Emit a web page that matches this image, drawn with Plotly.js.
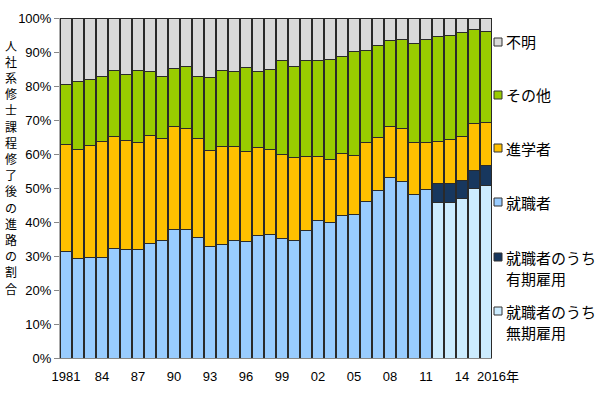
<!DOCTYPE html>
<html>
<head>
<meta charset="utf-8">
<script src="https://cdn.plot.ly/plotly-3.0.1.min.js"></script>
<style>html,body{margin:0;padding:0;background:#fff;}#chart{width:600px;height:398px;}</style>
</head>
<body>
<div id="chart"></div>
<script>
// Years 1981-2016
const years = [1981,1982,1983,1984,1985,1986,1987,1988,1989,1990,1991,1992,1993,1994,1995,1996,1997,1998,
               1999,2000,2001,2002,2003,2004,2005,2006,2007,2008,2009,2010,2011,2012,2013,2014,2015,2016];

// 就職者 (1981-2011), null afterwards
const shushoku = [31.2,29.2,29.5,29.7,32.2,31.9,31.8,33.7,34.7,37.7,37.8,35.3,32.7,33.5,34.6,34.4,35.9,36.4,
                  35.1,34.5,37.5,40.5,39.9,41.8,42.3,46.1,49.4,53.2,52.0,48.0,49.6,null,null,null,null,null];

// 就職者のうち無期雇用 (2012-2016)
const mukiValues = [45.7,45.7,46.8,50.0,50.6];
// 就職者のうち有期雇用 (2012-2016)
const yukiValues = [5.6,5.6,5.3,5.1,5.9];

// 進学者
const shingaku = [31.5,32.2,33.0,33.9,33.0,32.2,31.6,31.7,29.8,30.5,29.6,29.2,28.4,28.7,27.5,26.4,26.0,24.9,
                  24.9,24.5,21.9,18.9,18.6,18.3,17.4,17.4,15.5,14.8,15.4,15.3,13.8,12.5,13.0,13.1,13.8,12.8];

// その他
const sonota = [17.8,19.9,19.4,19.1,19.3,19.4,21.2,18.9,18.3,17.0,18.3,18.4,21.4,22.3,22.2,24.5,22.5,23.5,
                27.4,26.6,28.1,28.2,29.3,28.5,30.4,27.0,26.9,25.5,26.3,29.3,30.3,30.8,30.7,30.4,27.8,26.6];

// 不明
const fumei = [19.5,18.7,18.1,17.3,15.5,16.5,15.4,15.7,17.2,14.8,14.3,17.1,17.5,15.5,15.7,14.7,15.6,15.2,
               12.6,14.4,12.5,12.4,12.2,11.4,9.9,9.5,8.2,6.5,6.3,7.4,6.3,5.4,5.0,4.4,3.3,4.1];

const tickYears = [1981,1984,1987,1990,1993,1996,1999,2002,2005,2008,2011,2014];
const tickLabels = ['1981','84','87','90','93','96','99','02','05','08','11','14'];
const lastYearLabel = '2016年';

const yTitle = '人社系修士課程修了後の進路の割合';

// Legend entries (top to bottom)
const legendNames = [['不明'], ['その他'], ['進学者'], ['就職者'], ['就職者のうち','有期雇用'], ['就職者のうち','無期雇用']];
const legendColors = ['#D9D9D9', '#99CC00', '#FFC000', '#99CCFF', '#17375E', '#CCECFF'];

const nPre = years.length - mukiValues.length;
const muki = years.map((y,i) => i < nPre ? null : mukiValues[i - nPre]);
const yuki = years.map((y,i) => i < nPre ? null : yukiValues[i - nPre]);

const lineStyle = {color:'#2a2a2a', width:1};
function tr(name, vals, color){
  return {type:'bar', x:years, y:vals, name:name,
          marker:{color:color, line:lineStyle}, hoverinfo:'x+y+name'};
}

const data = [
  tr('就職者のうち無期雇用', muki, legendColors[5]),
  tr('就職者のうち有期雇用', yuki, legendColors[4]),
  tr('就職者', shushoku, legendColors[3]),
  tr('進学者', shingaku, legendColors[2]),
  tr('その他', sonota, legendColors[1]),
  tr('不明', fumei, legendColors[0])
];

const jp = 'Noto Sans CJK JP, sans-serif';
const lat = 'Liberation Sans, Arial, Noto Sans CJK JP, sans-serif';

// pixel -> paper helpers (plot area: x 60..492, y 18..358)
const PL = 60, PW = 432, PT = 18, PH = 340;
const px = x => (x - PL) / PW;
const py = y => (PT + PH - y) / PH;

const annotations = [];
const shapes = [];

// vertical y-axis title, one character per line
const chars = Array.from(yTitle);
chars.forEach((c, i) => {
  const yc = 45 + i * (288 - 45) / (chars.length - 1);
  annotations.push({xref:'paper', yref:'paper', x:px(11), y:py(yc), xanchor:'center', yanchor:'middle',
    text:c, showarrow:false, borderpad:0, font:{family:jp, size:12, color:'#000'}});
});

// last x label, shifted right as in the reference
annotations.push({xref:'x', yref:'paper', x:years[years.length-1], y:0, yanchor:'top', xanchor:'center',
  xshift:12, yshift:-10, text:lastYearLabel, showarrow:false, borderpad:0, font:{family:lat, size:13, color:'#000'}});

// custom legend
const legendY = [42, 95, 148, 202, 257, 311];
legendNames.forEach((lines, i) => {
  const yc = legendY[i];
  shapes.push({type:'rect', xref:'paper', yref:'paper', x0:px(494), x1:px(502), y0:py(yc+4), y1:py(yc-4),
    fillcolor:legendColors[i], line:{color:'#333', width:1}});
  lines.forEach((t, j) => {
    annotations.push({xref:'paper', yref:'paper', x:px(505), y:py(yc + j*21), xanchor:'left', yanchor:'middle',
      text:t, showarrow:false, borderpad:0, font:{family:jp, size:15, color:'#000'}});
  });
});

const layout = {
  width:600, height:398,
  margin:{l:PL, r:600-PL-PW, t:PT, b:398-PT-PH},
  barmode:'stack', bargap:1/12,
  paper_bgcolor:'#fff', plot_bgcolor:'#9a9a9a',
  font:{family:lat, size:13, color:'#000'},
  xaxis:{range:[1980.5,2016.5], tickmode:'array', tickvals:tickYears, ticktext:tickLabels, tickangle:0,
         showgrid:false, zeroline:false, showline:true, linecolor:'#888', linewidth:1,
         ticks:'', ticklabelstandoff:6, tickfont:{family:lat, size:13}, fixedrange:true},
  yaxis:{range:[0,100], dtick:10, ticksuffix:'%', showgrid:false, zeroline:false,
         showline:true, linecolor:'#aaa', linewidth:1, ticks:'outside', ticklen:5, tickcolor:'#888',
         tickfont:{family:lat, size:13}, fixedrange:true},
  showlegend:false,
  annotations:annotations,
  shapes:shapes
};

Plotly.newPlot('chart', data, layout, {displayModeBar:false, staticPlot:true});
</script>
</body>
</html>
